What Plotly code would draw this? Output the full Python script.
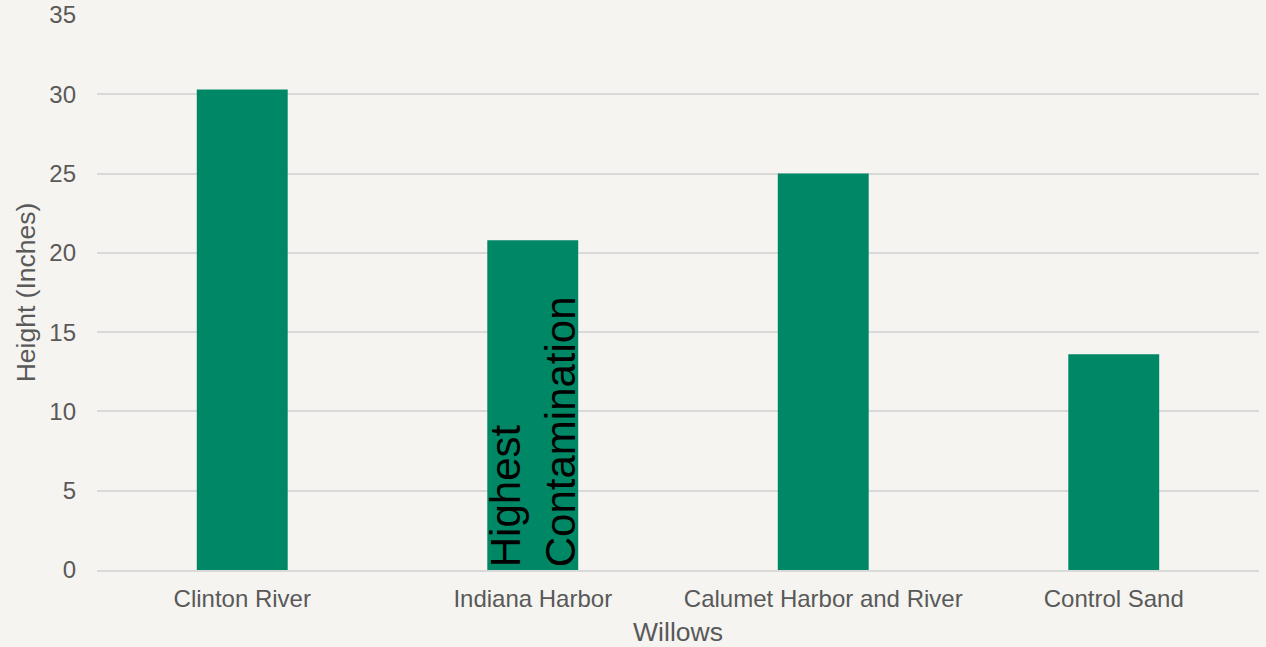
import plotly.graph_objects as go

# Willow heights by soil source
sites = ["Clinton River", "Indiana Harbor", "Calumet Harbor and River", "Control Sand"]
heights = [30.3, 20.8, 25.0, 13.6]
y_ticks = [0, 5, 10, 15, 20, 25, 30, 35]

note_site = "Indiana Harbor"
note_text = "Highest<br>Contamination"

BG = "#F5F4F0"
GREEN = "#008766"
GRID = "#D9D9D9"
TXT = "#595959"
FONT = "Liberation Sans, Arial, sans-serif"

fig = go.Figure(
    go.Bar(
        x=sites,
        y=heights,
        marker=dict(color=GREEN, line=dict(width=0)),
        hoverinfo="x+y",
    )
)

fig.add_annotation(
    x=note_site,
    y=0,
    xref="x",
    yref="y",
    text=note_text,
    textangle=-90,
    align="left",
    showarrow=False,
    xanchor="center",
    yanchor="bottom",
    yshift=1,
    font=dict(family=FONT, size=42, color="#000000"),
)

fig.update_layout(
    width=1266,
    height=647,
    paper_bgcolor=BG,
    plot_bgcolor=BG,
    margin=dict(l=97, r=7, t=15, b=77),
    bargap=0.687,
    showlegend=False,
    font=dict(family=FONT, color=TXT),
)

fig.update_xaxes(
    title=dict(text="Willows", font=dict(size=26.5, color=TXT), standoff=17),
    tickfont=dict(size=24, color=TXT),
    showgrid=False,
    showline=True,
    linecolor=GRID,
    linewidth=2,
    ticks="",
    ticklabelstandoff=6,
    automargin=False,
)

fig.update_yaxes(
    title=dict(text="Height (Inches)", font=dict(size=26.5, color=TXT), standoff=6),
    range=[0, 35],
    tickvals=y_ticks,
    tickfont=dict(size=24, color=TXT),
    showgrid=True,
    gridcolor=GRID,
    gridwidth=2,
    zeroline=False,
    ticks="",
    ticklabelstandoff=20,
    automargin=False,
)

fig.write_html("out.html")
